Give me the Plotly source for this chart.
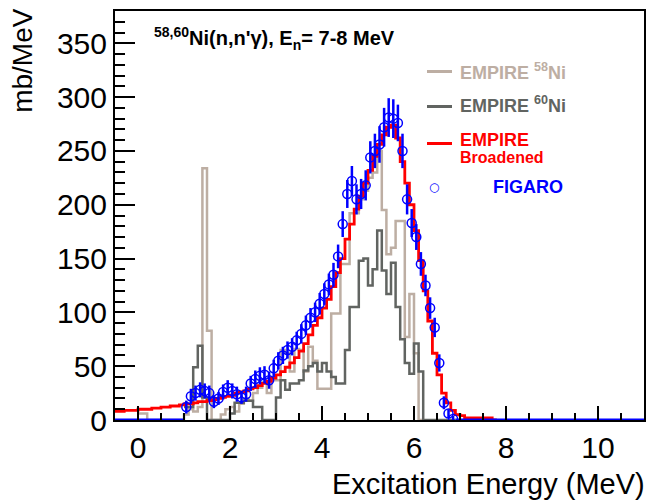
import plotly.graph_objects as go

# ---------------- data ----------------
BIN = 0.1

# EMPIRE broadened (red), bins of 0.1 MeV starting at -0.5 MeV
red_start = -0.5
red_vals = [8, 8, 9, 9, 9, 10, 10, 10, 11, 11, 12, 12, 13, 13, 14,
            15, 15, 16, 17, 17, 18, 19, 20, 21, 22,
            23, 25, 26, 27, 29, 30, 32, 34, 36, 39,
            42, 45, 49, 53, 58, 64, 71, 79, 88, 95,
            104, 112, 124, 137, 150, 168, 182, 196, 208, 220,
            232, 245, 256, 265, 272, 274, 262, 240, 220, 200,
            176, 148, 120, 92, 62, 42, 25, 16, 9, 5,
            4, 2, 2, 2, 2, 2, 2, 0]

# EMPIRE 58Ni (tan), bins of 0.1 MeV starting at 0.0 MeV
ni58_start = 0.0
ni58_vals = [6, 6, 0, 0, 0, 0, 0, 0, 0, 0,
             5, 10, 8, 12, 234, 83, 0, 0, 5, 10,
             12, 8, 15, 20, 18, 25, 30, 35, 25, 37,
             37, 65, 62, 45, 66, 65, 45, 68, 55, 29,
             29, 29, 99, 99, 145, 145, 192, 192, 205, 213,
             225, 230, 250, 195, 154, 160, 185, 185, 77, 117,
             62, 0]

# EMPIRE 60Ni (dark grey), bins of 0.1 MeV starting at 1.0 MeV
ni60_start = 1.0
ni60_vals = [12, 12, 49, 69, 21, 0, 0, 0, 0, 0,
             6, 16, 16, 18, 18, 12, 12, 0, 0, 0,
             21, 37, 28, 34, 34, 37, 46, 50, 53, 45,
             53, 45, 40, 34, 34, 65, 105, 105, 148, 150,
             125, 140, 176, 139, 117, 146, 105, 75, 53, 43,
             71, 45, 0, 0, 0, 0, 0, 0, 0]

# FIGARO data points
fig_E = [1.05, 1.15, 1.25, 1.35, 1.45, 1.55, 1.65, 1.75, 1.85, 1.95,
         2.05, 2.15, 2.25, 2.35, 2.45, 2.55, 2.65, 2.75, 2.85, 2.95,
         3.05, 3.15, 3.25, 3.35, 3.45, 3.55, 3.65, 3.75, 3.85, 3.95,
         4.05, 4.15, 4.25, 4.35, 4.45, 4.55, 4.65, 4.75, 4.85, 4.95,
         5.05, 5.15, 5.25, 5.35, 5.45, 5.55, 5.65, 5.75, 5.85, 5.95,
         6.05, 6.15, 6.25, 6.35, 6.45, 6.55, 6.65, 6.75, 6.85]
fig_v = [12, 22, 25, 28, 27, 25, 17, 20, 26, 30,
         27, 24, 21, 24, 34, 38, 41, 42, 37, 48,
         55, 60, 65, 68, 74, 80, 88, 95, 100, 108,
         117, 126, 135, 152, 182, 210, 222, 205, 210, 218,
         244, 250, 256, 272, 281, 280, 276, 250, 205, 183,
         170, 145, 125, 104, 86, 53, 16, 6, 1]
fig_err = [6, 7, 7, 7, 7, 7, 6, 6, 7, 7,
           7, 7, 6, 7, 7, 8, 8, 8, 8, 8,
           8, 8, 8, 8, 8, 9, 9, 9, 9, 10,
           10, 10, 11, 11, 12, 13, 14, 14, 14, 14,
           15, 16, 17, 18, 18, 18, 17, 16, 14, 13,
           12, 11, 10, 10, 9, 8, 6, 4, 3]
# FIGARO energy ranges measured as zero
fig_zero_ranges = [(-0.5, 1.0), (6.9, 11.0)]

x_range = [-0.5, 11.0]
y_range = [0, 380]

C_58 = "#bdaea3"
C_60 = "#616461"
C_RED = "#ff0000"
C_BLUE = "#0000ff"


def hist_xy(start, vals):
    xs = [round(start + i * BIN, 3) for i in range(len(vals))]
    xs.append(round(start + len(vals) * BIN, 3))
    ys = list(vals) + [vals[-1]]
    return xs, ys


fig = go.Figure()

x58, y58 = hist_xy(ni58_start, ni58_vals)
fig.add_trace(go.Scatter(x=x58, y=y58, mode="lines", line=dict(color=C_58, width=2.5, shape="hv"),
                         name="EMPIRE 58Ni", showlegend=False))
x60, y60 = hist_xy(ni60_start, ni60_vals)
fig.add_trace(go.Scatter(x=x60, y=y60, mode="lines", line=dict(color=C_60, width=2.5, shape="hv"),
                         name="EMPIRE 60Ni", showlegend=False))
xr, yr = hist_xy(red_start, red_vals)
fig.add_trace(go.Scatter(x=xr, y=yr, mode="lines", line=dict(color=C_RED, width=2.8, shape="hv"),
                         name="EMPIRE Broadened", showlegend=False))

for lo, hi in fig_zero_ranges:
    fig.add_trace(go.Scatter(x=[lo, hi], y=[0, 0], mode="lines",
                             line=dict(color=C_BLUE, width=3), showlegend=False))

fig.add_trace(go.Scatter(x=fig_E, y=fig_v, mode="markers",
                         marker=dict(symbol="circle-open", size=9, color=C_BLUE, line=dict(width=1.5)),
                         error_y=dict(type="data", array=fig_err, color=C_BLUE, thickness=2.5, width=0),
                         name="FIGARO", showlegend=False))

# ---------------- layout ----------------
W, H = 651, 501
ML, MR, MT, MB = 115, 5, 11, 81
PW = W - ML - MR
PH = H - MT - MB


def px(x):
    return (x - ML) / PW


def py(y):
    return (H - MB - y) / PH


FONT = "Arial, Liberation Sans, sans-serif"

fig.update_xaxes(range=x_range,
                 ticks="inside", ticklen=14, tickwidth=2, tickcolor="black",
                 tickfont=dict(size=30, family=FONT, color="black"),
                 minor=dict(dtick=0.5, ticklen=7, ticks="inside", tickcolor="black", tickwidth=2),
                 showline=True, linecolor="black", linewidth=2, mirror=True,
                 showgrid=False, zeroline=False)
fig.update_yaxes(range=y_range,
                 ticks="inside", ticklen=20, tickwidth=2, tickcolor="black",
                 tickfont=dict(size=30, family=FONT, color="black"),
                 minor=dict(dtick=10, ticklen=10, ticks="inside", tickcolor="black", tickwidth=2),
                 showline=True, linecolor="black", linewidth=2, mirror=True,
                 showgrid=False, zeroline=False)

ann = []
# axis titles
ann.append(dict(text="Excitation Energy (MeV)", xref="paper", yref="paper",
                x=px(649), y=py(484), xanchor="right", yanchor="middle",
                showarrow=False, font=dict(size=29, family=FONT, color="black")))
ann.append(dict(text="mb/MeV", xref="paper", yref="paper", textangle=-90,
                x=px(22), y=py(6), xanchor="center", yanchor="top",
                showarrow=False, font=dict(size=28, family=FONT, color="black")))
# header
ann.append(dict(text="<b><sup>58,60</sup>Ni(n,n'γ), E<sub>n</sub>= 7-8 MeV</b>",
                xref="paper", yref="paper", x=px(152), y=py(38), xanchor="left", yanchor="middle",
                showarrow=False, font=dict(size=20, family=FONT, color="black")))
# legend texts
ann.append(dict(text="<b>EMPIRE <sup>58</sup>Ni</b>", xref="paper", yref="paper",
                x=px(459), y=py(72), xanchor="left", yanchor="middle", showarrow=False,
                font=dict(size=18, family=FONT, color=C_58)))
ann.append(dict(text="<b>EMPIRE <sup>60</sup>Ni</b>", xref="paper", yref="paper",
                x=px(459), y=py(105), xanchor="left", yanchor="middle", showarrow=False,
                font=dict(size=18, family=FONT, color=C_60)))
ann.append(dict(text="<b>EMPIRE</b>", xref="paper", yref="paper",
                x=px(459), y=py(140), xanchor="left", yanchor="middle", showarrow=False,
                font=dict(size=18, family=FONT, color=C_RED)))
ann.append(dict(text="<b>Broadened</b>", xref="paper", yref="paper",
                x=px(459), y=py(157), xanchor="left", yanchor="middle", showarrow=False,
                font=dict(size=16, family=FONT, color=C_RED)))
ann.append(dict(text="<b>FIGARO</b>", xref="paper", yref="paper",
                x=px(492), y=py(187), xanchor="left", yanchor="middle", showarrow=False,
                font=dict(size=18, family=FONT, color=C_BLUE)))
# legend keys: small filled boxes (line samples) and an open circle glyph
for ypix, col in [(72, C_58), (106, C_60), (143, C_RED)]:
    ann.append(dict(text=" ", xref="paper", yref="paper",
                    x=px(428), y=py(ypix), xanchor="left", yanchor="middle", showarrow=False,
                    width=25, height=3, bgcolor=col, borderpad=0, borderwidth=0,
                    font=dict(size=2, color=col)))
ann.append(dict(text="○", xref="paper", yref="paper",
                x=px(435), y=py(187), xanchor="center", yanchor="middle", showarrow=False,
                font=dict(size=12, family="DejaVu Sans", color=C_BLUE)))

fig.update_layout(width=W, height=H, margin=dict(l=ML, r=MR, t=MT, b=MB),
                  plot_bgcolor="white", paper_bgcolor="white",
                  annotations=ann)

fig.write_html("out.html", config={"displayModeBar": False},
               post_script="document.body.style.margin='0';")
